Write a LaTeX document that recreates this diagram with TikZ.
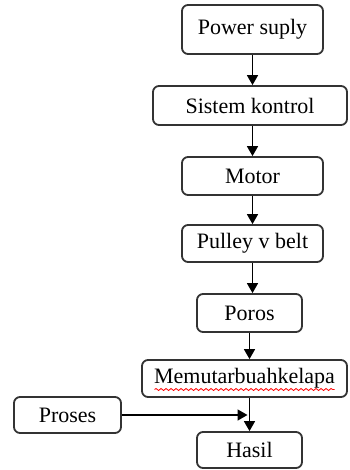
\documentclass[tikz,border=0pt]{standalone}
\usepackage{fontspec}
\setmainfont{Liberation Serif}
\usetikzlibrary{arrows.meta, decorations.pathmorphing}

\begin{document}
\begin{tikzpicture}[x=0.5pt, y=-0.5pt,
    blok/.style={draw=black!80, line width=0.9pt, rounded corners=3pt, fill=white,
        font=\fontsize{11}{13}\selectfont, inner sep=0pt, minimum height=18.5pt},
    panah/.style={-{Triangle[length=5pt, width=5.5pt]}, line width=0.8pt}]
    \useasboundingbox (0,0) rectangle (349,470);

    % blocks
    \node[blok, minimum width=70.5pt, minimum height=24.5pt] (power) at (252.5,29.5) {Power suply};
    \node[blok, minimum width=97pt, minimum height=19.5pt] (sistem) at (250,105.5) {Sistem kontrol};
    \node[blok, minimum width=70.5pt, minimum height=19pt] (motor) at (252.5,176) {Motor};
    \node[blok, minimum width=70.5pt] (pulley) at (252.5,243.5) {Pulley v belt};
    \node[blok, minimum width=52.5pt, minimum height=19pt] (poros) at (249.5,313) {Poros};
    \node[blok, minimum width=102.5pt] (memutar) at (244.5,378.5) {Memutarbuahkelapa};
    \node[blok, minimum width=53.5pt, minimum height=18pt] (proses) at (67.5,415) {Proses};
    \node[blok, minimum width=52.5pt, minimum height=18pt] (hasil) at (249.5,450) {Hasil};

    % spelling underline
    \draw[red, line width=0.4pt, decorate, decoration={snake, amplitude=0.5pt, segment length=2.5pt}]
        ([xshift=-45pt, yshift=-5.5pt]memutar.center) -- ([xshift=45pt, yshift=-5.5pt]memutar.center);

    % arrows
    \draw[panah] (power.south) -- (power.south |- sistem.north);
    \draw[panah] (motor.north |- sistem.south) -- (motor.north);
    \draw[panah] (motor.south) -- (pulley.north);
    \draw[panah] (pulley.south) -- (pulley.south |- poros.north);
    \draw[panah] (poros.south) -- (poros.south |- memutar.north);
    \draw[panah] (hasil.north |- memutar.south) -- (hasil.north);
    \draw[panah, shorten >=1pt] (proses.east) -- (hasil.north |- proses.east);
\end{tikzpicture}
\end{document}
